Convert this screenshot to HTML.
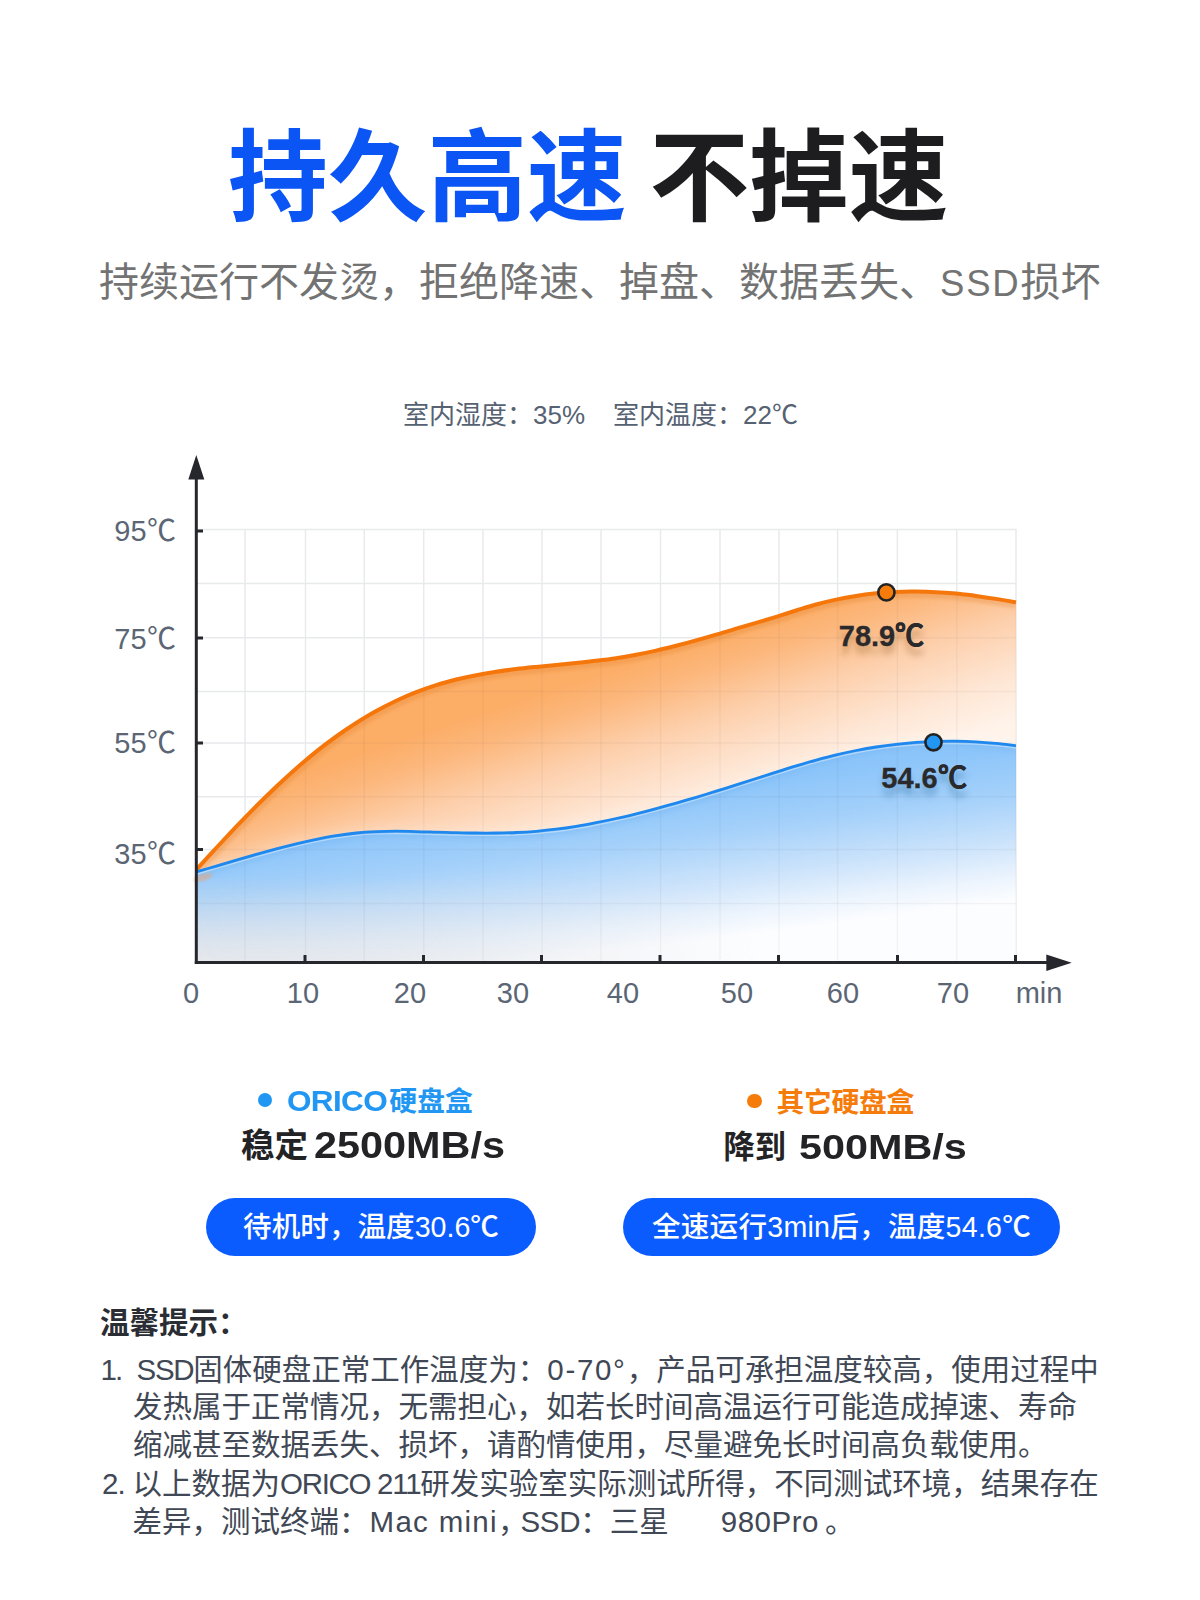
<!DOCTYPE html>
<html lang="zh-CN">
<head>
<meta charset="utf-8">
<title>持久高速 不掉速</title>
<style>
html,body{margin:0;padding:0;background:#fff;}
body{width:1200px;height:1600px;position:relative;overflow:hidden;font-family:"Liberation Sans","Noto Sans CJK SC",sans-serif;color:#222;}
.abs{position:absolute;white-space:nowrap;line-height:1;}
.title{left:228px;top:119.5px;font-size:99.7px;font-weight:700;letter-spacing:0;font-family:"Noto Sans CJK SC","Liberation Sans",sans-serif;}
.title .b{color:#0b55f5;}
.title .k{color:#1d1d1f;}
.sub{left:99px;top:258.5px;font-size:40px;font-weight:400;color:#737373;font-family:"Noto Sans CJK SC","Liberation Sans",sans-serif;}
.env{top:402px;font-size:26px;color:#566272;font-weight:400;}
svg{position:absolute;left:0;top:0;}
.ax{font-size:29px;fill:#5b6675;font-family:"Liberation Sans",sans-serif;}
.lg{font-size:27.8px;font-weight:700;line-height:28px;}
.lg i{display:inline-block;width:14.5px;height:14.5px;border-radius:50%;vertical-align:middle;margin-right:15px;position:relative;top:-3px;}
.spd{font-size:35px;font-weight:700;color:#232326;}
.spd b{font-size:37px;font-weight:700;display:inline-block;transform:scaleX(1.10);transform-origin:0 50%;}
.lg b{font-size:30px;letter-spacing:-0.6px;margin-right:7px;font-weight:700;display:inline-block;transform:scaleX(1.05);transform-origin:0 50%;}
.pill{position:absolute;height:58px;border-radius:29px;background:#0b5cff;color:#fff;font-size:28.6px;font-weight:500;line-height:58px;text-align:center;white-space:nowrap;}
.tip-h{left:100px;top:1307.5px;font-size:29.5px;font-weight:700;color:#2a2d33;}
.tip{font-size:29.5px;color:#414855;font-weight:400;}
</style>
</head>
<body>
<div class="abs title"><span class="b">持久高速</span> <span class="k">不掉速</span></div>
<div class="abs sub">持续运行不发烫，拒绝降速、掉盘、数据丢失、<span style="font-family:'Liberation Sans',sans-serif;font-size:36.5px;letter-spacing:1.8px;margin-left:1px;">SSD</span>损坏</div>
<div class="abs env" style="left:403px">室内湿度：35%</div>
<div class="abs env" style="left:613px">室内温度：22℃</div>

<svg width="1200" height="1600" viewBox="0 0 1200 1600">
<defs>
<linearGradient id="go" x1="600" y1="672" x2="656" y2="841" gradientUnits="userSpaceOnUse">
<stop offset="0" stop-color="#fcad66"/>
<stop offset="0.18" stop-color="#fcb77c"/>
<stop offset="0.45" stop-color="#fdd0ad"/>
<stop offset="0.75" stop-color="#fee6d4"/>
<stop offset="1" stop-color="#fff3ea"/>
</linearGradient>
<linearGradient id="gb" x1="600" y1="800" x2="620" y2="952" gradientUnits="userSpaceOnUse">
<stop offset="0" stop-color="#8cc5fa"/>
<stop offset="0.3" stop-color="#a3d0fa"/>
<stop offset="0.6" stop-color="#c9e2fb"/>
<stop offset="0.85" stop-color="#ecf4fd"/>
<stop offset="1" stop-color="#fcfdff"/>
</linearGradient>
<linearGradient id="gv" x1="0" y1="875" x2="0" y2="962" gradientUnits="userSpaceOnUse">
<stop offset="0" stop-color="#d9dbe0" stop-opacity="0"/>
<stop offset="1" stop-color="#e6e7ea" stop-opacity="0.95"/>
</linearGradient>
<linearGradient id="gh" x1="196" y1="0" x2="760" y2="0" gradientUnits="userSpaceOnUse">
<stop offset="0" stop-color="#fff" stop-opacity="1"/>
<stop offset="0.4" stop-color="#fff" stop-opacity="0.7"/>
<stop offset="1" stop-color="#fff" stop-opacity="0"/>
</linearGradient>
<mask id="mh" maskUnits="userSpaceOnUse" x="196" y="860" width="820" height="104"><rect x="196" y="860" width="820" height="104" fill="url(#gh)"/></mask>
<clipPath id="co"><path d="M196.2 869.8C199.6 866.1 209.6 855.2 216.2 848.0C222.9 840.8 229.6 833.7 236.2 826.7C242.9 819.7 249.6 812.9 256.2 806.2C262.9 799.5 269.6 793.0 276.2 786.7C282.9 780.4 289.6 774.2 296.2 768.4C302.9 762.6 309.5 757.0 316.2 751.6C322.9 746.3 329.5 741.3 336.2 736.5C342.9 731.7 349.5 727.2 356.2 723.0C362.9 718.8 369.5 714.8 376.2 711.1C382.9 707.4 389.5 704.0 396.2 700.8C402.9 697.7 409.5 694.8 416.2 692.2C422.8 689.6 429.5 687.2 436.2 685.1C442.8 683.0 449.5 681.2 456.2 679.5C462.8 677.9 469.5 676.5 476.2 675.2C482.8 673.9 489.5 672.8 496.2 671.8C502.8 670.7 509.5 669.9 516.2 669.1C522.8 668.3 529.5 667.6 536.1 666.9C542.8 666.2 549.5 665.6 556.1 665.0C562.8 664.3 569.5 663.7 576.1 663.0C582.8 662.3 589.5 661.7 596.1 660.8C602.8 660.0 609.5 659.2 616.1 658.2C622.8 657.2 629.5 656.1 636.1 654.8C642.8 653.5 649.4 652.1 656.1 650.6C662.8 649.1 669.4 647.4 676.1 645.7C682.8 644.0 689.4 642.2 696.1 640.3C702.8 638.5 709.4 636.6 716.1 634.6C722.8 632.7 729.4 630.7 736.1 628.7C742.7 626.8 749.4 624.8 756.1 622.8C762.7 620.9 769.4 618.9 776.1 616.9C782.7 614.8 789.4 612.6 796.1 610.5C802.7 608.5 809.4 606.3 816.1 604.5C822.7 602.7 829.4 601.0 836.1 599.6C842.7 598.1 849.4 596.9 856.0 595.9C862.7 594.8 869.4 594.0 876.0 593.3C882.7 592.7 889.4 592.2 896.0 591.9C902.7 591.6 909.4 591.5 916.0 591.6C922.7 591.6 929.4 591.8 936.0 592.2C942.7 592.5 949.4 593.0 956.0 593.6C962.7 594.3 969.3 595.0 976.0 595.9C982.7 596.8 989.3 597.8 996.0 598.9C1002.7 599.9 1012.7 601.8 1016.0 602.4L1016 962L196.2 962Z"/></clipPath>
<clipPath id="cb"><path d="M196.2 871.9C199.6 870.9 209.6 868.0 216.2 866.1C222.9 864.1 229.6 862.1 236.2 860.2C242.9 858.2 249.6 856.3 256.2 854.4C262.9 852.5 269.6 850.7 276.2 848.9C282.9 847.1 289.6 845.4 296.2 843.8C302.9 842.2 309.5 840.7 316.2 839.3C322.9 838.0 329.5 836.7 336.2 835.7C342.9 834.6 349.5 833.7 356.2 833.0C362.9 832.3 369.5 831.9 376.2 831.6C382.9 831.3 389.5 831.2 396.2 831.2C402.9 831.2 409.5 831.4 416.2 831.6C422.8 831.7 429.5 832.0 436.2 832.2C442.8 832.3 449.5 832.6 456.2 832.7C462.8 832.8 469.5 833.0 476.2 833.0C482.8 833.1 489.5 833.1 496.2 833.0C502.8 832.9 509.5 832.8 516.2 832.5C522.8 832.2 529.5 831.8 536.1 831.3C542.8 830.7 549.5 830.0 556.1 829.2C562.8 828.4 569.5 827.4 576.1 826.3C582.8 825.3 589.5 824.0 596.1 822.7C602.8 821.4 609.5 820.0 616.1 818.5C622.8 817.0 629.5 815.4 636.1 813.8C642.8 812.1 649.4 810.4 656.1 808.6C662.8 806.8 669.4 805.0 676.1 803.1C682.8 801.2 689.4 799.2 696.1 797.3C702.8 795.3 709.4 793.2 716.1 791.2C722.8 789.1 729.4 787.0 736.1 784.9C742.7 782.8 749.4 780.7 756.1 778.5C762.7 776.4 769.4 774.2 776.1 772.1C782.7 770.0 789.4 767.9 796.1 765.9C802.7 763.9 809.4 761.9 816.1 760.1C822.7 758.3 829.4 756.5 836.1 754.9C842.7 753.3 849.4 751.8 856.0 750.5C862.7 749.2 869.4 748.0 876.0 747.0C882.7 745.9 889.4 745.0 896.0 744.3C902.7 743.5 909.4 742.9 916.0 742.4C922.7 741.9 929.4 741.6 936.0 741.4C942.7 741.2 949.4 741.1 956.0 741.2C962.7 741.3 969.3 741.5 976.0 741.8C982.7 742.2 989.3 742.7 996.0 743.3C1002.7 743.9 1012.7 745.2 1016.0 745.6L1016 962L196.2 962Z"/></clipPath>
<filter id="bl" x="-5%" y="-5%" width="110%" height="110%"><feGaussianBlur stdDeviation="3"/></filter>
<filter id="bl2" x="-5%" y="-5%" width="110%" height="110%"><feGaussianBlur stdDeviation="1.8"/></filter>
<filter id="glow" x="-5%" y="-20%" width="110%" height="140%"><feGaussianBlur stdDeviation="8"/></filter>
<filter id="ts" x="-20%" y="-50%" width="140%" height="250%"><feGaussianBlur stdDeviation="3"/></filter>
</defs>
<g stroke="#e8e9eb" stroke-width="1.4" fill="none"><line x1="245.00" y1="529" x2="245.00" y2="962" /><line x1="305.50" y1="529" x2="305.50" y2="962" /><line x1="364.25" y1="529" x2="364.25" y2="962" /><line x1="423.75" y1="529" x2="423.75" y2="962" /><line x1="483.00" y1="529" x2="483.00" y2="962" /><line x1="542.00" y1="529" x2="542.00" y2="962" /><line x1="601.00" y1="529" x2="601.00" y2="962" /><line x1="660.50" y1="529" x2="660.50" y2="962" /><line x1="720.00" y1="529" x2="720.00" y2="962" /><line x1="779.00" y1="529" x2="779.00" y2="962" /><line x1="837.60" y1="529" x2="837.60" y2="962" /><line x1="897.40" y1="529" x2="897.40" y2="962" /><line x1="956.80" y1="529" x2="956.80" y2="962" /><line x1="1016.00" y1="529" x2="1016.00" y2="962" /><line x1="197" y1="529.50" x2="1016.5" y2="529.50" /><line x1="197" y1="583.50" x2="1016.5" y2="583.50" /><line x1="197" y1="637.75" x2="1016.5" y2="637.75" /><line x1="197" y1="691.50" x2="1016.5" y2="691.50" /><line x1="197" y1="743.00" x2="1016.5" y2="743.00" /><line x1="197" y1="796.75" x2="1016.5" y2="796.75" /><line x1="197" y1="849.50" x2="1016.5" y2="849.50" /><line x1="197" y1="903.50" x2="1016.5" y2="903.50" /></g>
<path d="M196.2 869.8C199.6 866.1 209.6 855.2 216.2 848.0C222.9 840.8 229.6 833.7 236.2 826.7C242.9 819.7 249.6 812.9 256.2 806.2C262.9 799.5 269.6 793.0 276.2 786.7C282.9 780.4 289.6 774.2 296.2 768.4C302.9 762.6 309.5 757.0 316.2 751.6C322.9 746.3 329.5 741.3 336.2 736.5C342.9 731.7 349.5 727.2 356.2 723.0C362.9 718.8 369.5 714.8 376.2 711.1C382.9 707.4 389.5 704.0 396.2 700.8C402.9 697.7 409.5 694.8 416.2 692.2C422.8 689.6 429.5 687.2 436.2 685.1C442.8 683.0 449.5 681.2 456.2 679.5C462.8 677.9 469.5 676.5 476.2 675.2C482.8 673.9 489.5 672.8 496.2 671.8C502.8 670.7 509.5 669.9 516.2 669.1C522.8 668.3 529.5 667.6 536.1 666.9C542.8 666.2 549.5 665.6 556.1 665.0C562.8 664.3 569.5 663.7 576.1 663.0C582.8 662.3 589.5 661.7 596.1 660.8C602.8 660.0 609.5 659.2 616.1 658.2C622.8 657.2 629.5 656.1 636.1 654.8C642.8 653.5 649.4 652.1 656.1 650.6C662.8 649.1 669.4 647.4 676.1 645.7C682.8 644.0 689.4 642.2 696.1 640.3C702.8 638.5 709.4 636.6 716.1 634.6C722.8 632.7 729.4 630.7 736.1 628.7C742.7 626.8 749.4 624.8 756.1 622.8C762.7 620.9 769.4 618.9 776.1 616.9C782.7 614.8 789.4 612.6 796.1 610.5C802.7 608.5 809.4 606.3 816.1 604.5C822.7 602.7 829.4 601.0 836.1 599.6C842.7 598.1 849.4 596.9 856.0 595.9C862.7 594.8 869.4 594.0 876.0 593.3C882.7 592.7 889.4 592.2 896.0 591.9C902.7 591.6 909.4 591.5 916.0 591.6C922.7 591.6 929.4 591.8 936.0 592.2C942.7 592.5 949.4 593.0 956.0 593.6C962.7 594.3 969.3 595.0 976.0 595.9C982.7 596.8 989.3 597.8 996.0 598.9C1002.7 599.9 1012.7 601.8 1016.0 602.4L1016 962L196.2 962Z" fill="url(#go)"/>
<g clip-path="url(#co)"><path d="M196.2 869.8C199.6 866.1 209.6 855.2 216.2 848.0C222.9 840.8 229.6 833.7 236.2 826.7C242.9 819.7 249.6 812.9 256.2 806.2C262.9 799.5 269.6 793.0 276.2 786.7C282.9 780.4 289.6 774.2 296.2 768.4C302.9 762.6 309.5 757.0 316.2 751.6C322.9 746.3 329.5 741.3 336.2 736.5C342.9 731.7 349.5 727.2 356.2 723.0C362.9 718.8 369.5 714.8 376.2 711.1C382.9 707.4 389.5 704.0 396.2 700.8C402.9 697.7 409.5 694.8 416.2 692.2C422.8 689.6 429.5 687.2 436.2 685.1C442.8 683.0 449.5 681.2 456.2 679.5C462.8 677.9 469.5 676.5 476.2 675.2C482.8 673.9 489.5 672.8 496.2 671.8C502.8 670.7 509.5 669.9 516.2 669.1C522.8 668.3 529.5 667.6 536.1 666.9C542.8 666.2 549.5 665.6 556.1 665.0C562.8 664.3 569.5 663.7 576.1 663.0C582.8 662.3 589.5 661.7 596.1 660.8C602.8 660.0 609.5 659.2 616.1 658.2C622.8 657.2 629.5 656.1 636.1 654.8C642.8 653.5 649.4 652.1 656.1 650.6C662.8 649.1 669.4 647.4 676.1 645.7C682.8 644.0 689.4 642.2 696.1 640.3C702.8 638.5 709.4 636.6 716.1 634.6C722.8 632.7 729.4 630.7 736.1 628.7C742.7 626.8 749.4 624.8 756.1 622.8C762.7 620.9 769.4 618.9 776.1 616.9C782.7 614.8 789.4 612.6 796.1 610.5C802.7 608.5 809.4 606.3 816.1 604.5C822.7 602.7 829.4 601.0 836.1 599.6C842.7 598.1 849.4 596.9 856.0 595.9C862.7 594.8 869.4 594.0 876.0 593.3C882.7 592.7 889.4 592.2 896.0 591.9C902.7 591.6 909.4 591.5 916.0 591.6C922.7 591.6 929.4 591.8 936.0 592.2C942.7 592.5 949.4 593.0 956.0 593.6C962.7 594.3 969.3 595.0 976.0 595.9C982.7 596.8 989.3 597.8 996.0 598.9C1002.7 599.9 1012.7 601.8 1016.0 602.4" fill="none" stroke="#e07a28" stroke-opacity="0.26" stroke-width="13" filter="url(#bl2)"/></g>
<g clip-path="url(#co)"><path d="M196.2 871.9C199.6 870.9 209.6 868.0 216.2 866.1C222.9 864.1 229.6 862.1 236.2 860.2C242.9 858.2 249.6 856.3 256.2 854.4C262.9 852.5 269.6 850.7 276.2 848.9C282.9 847.1 289.6 845.4 296.2 843.8C302.9 842.2 309.5 840.7 316.2 839.3C322.9 838.0 329.5 836.7 336.2 835.7C342.9 834.6 349.5 833.7 356.2 833.0C362.9 832.3 369.5 831.9 376.2 831.6C382.9 831.3 389.5 831.2 396.2 831.2C402.9 831.2 409.5 831.4 416.2 831.6C422.8 831.7 429.5 832.0 436.2 832.2C442.8 832.3 449.5 832.6 456.2 832.7C462.8 832.8 469.5 833.0 476.2 833.0C482.8 833.1 489.5 833.1 496.2 833.0C502.8 832.9 509.5 832.8 516.2 832.5C522.8 832.2 529.5 831.8 536.1 831.3C542.8 830.7 549.5 830.0 556.1 829.2C562.8 828.4 569.5 827.4 576.1 826.3C582.8 825.3 589.5 824.0 596.1 822.7C602.8 821.4 609.5 820.0 616.1 818.5C622.8 817.0 629.5 815.4 636.1 813.8C642.8 812.1 649.4 810.4 656.1 808.6C662.8 806.8 669.4 805.0 676.1 803.1C682.8 801.2 689.4 799.2 696.1 797.3C702.8 795.3 709.4 793.2 716.1 791.2C722.8 789.1 729.4 787.0 736.1 784.9C742.7 782.8 749.4 780.7 756.1 778.5C762.7 776.4 769.4 774.2 776.1 772.1C782.7 770.0 789.4 767.9 796.1 765.9C802.7 763.9 809.4 761.9 816.1 760.1C822.7 758.3 829.4 756.5 836.1 754.9C842.7 753.3 849.4 751.8 856.0 750.5C862.7 749.2 869.4 748.0 876.0 747.0C882.7 745.9 889.4 745.0 896.0 744.3C902.7 743.5 909.4 742.9 916.0 742.4C922.7 741.9 929.4 741.6 936.0 741.4C942.7 741.2 949.4 741.1 956.0 741.2C962.7 741.3 969.3 741.5 976.0 741.8C982.7 742.2 989.3 742.7 996.0 743.3C1002.7 743.9 1012.7 745.2 1016.0 745.6L1016 962L196.2 962Z" fill="#fff" fill-opacity="0.3" filter="url(#glow)"/></g>
<path d="M196.2 871.9C199.6 870.9 209.6 868.0 216.2 866.1C222.9 864.1 229.6 862.1 236.2 860.2C242.9 858.2 249.6 856.3 256.2 854.4C262.9 852.5 269.6 850.7 276.2 848.9C282.9 847.1 289.6 845.4 296.2 843.8C302.9 842.2 309.5 840.7 316.2 839.3C322.9 838.0 329.5 836.7 336.2 835.7C342.9 834.6 349.5 833.7 356.2 833.0C362.9 832.3 369.5 831.9 376.2 831.6C382.9 831.3 389.5 831.2 396.2 831.2C402.9 831.2 409.5 831.4 416.2 831.6C422.8 831.7 429.5 832.0 436.2 832.2C442.8 832.3 449.5 832.6 456.2 832.7C462.8 832.8 469.5 833.0 476.2 833.0C482.8 833.1 489.5 833.1 496.2 833.0C502.8 832.9 509.5 832.8 516.2 832.5C522.8 832.2 529.5 831.8 536.1 831.3C542.8 830.7 549.5 830.0 556.1 829.2C562.8 828.4 569.5 827.4 576.1 826.3C582.8 825.3 589.5 824.0 596.1 822.7C602.8 821.4 609.5 820.0 616.1 818.5C622.8 817.0 629.5 815.4 636.1 813.8C642.8 812.1 649.4 810.4 656.1 808.6C662.8 806.8 669.4 805.0 676.1 803.1C682.8 801.2 689.4 799.2 696.1 797.3C702.8 795.3 709.4 793.2 716.1 791.2C722.8 789.1 729.4 787.0 736.1 784.9C742.7 782.8 749.4 780.7 756.1 778.5C762.7 776.4 769.4 774.2 776.1 772.1C782.7 770.0 789.4 767.9 796.1 765.9C802.7 763.9 809.4 761.9 816.1 760.1C822.7 758.3 829.4 756.5 836.1 754.9C842.7 753.3 849.4 751.8 856.0 750.5C862.7 749.2 869.4 748.0 876.0 747.0C882.7 745.9 889.4 745.0 896.0 744.3C902.7 743.5 909.4 742.9 916.0 742.4C922.7 741.9 929.4 741.6 936.0 741.4C942.7 741.2 949.4 741.1 956.0 741.2C962.7 741.3 969.3 741.5 976.0 741.8C982.7 742.2 989.3 742.7 996.0 743.3C1002.7 743.9 1012.7 745.2 1016.0 745.6L1016 962L196.2 962Z" fill="url(#gb)"/>
<g clip-path="url(#cb)"><rect x="196" y="870" width="820" height="92" fill="url(#gv)" mask="url(#mh)"/><path d="M196.2 871.9C199.6 870.9 209.6 868.0 216.2 866.1C222.9 864.1 229.6 862.1 236.2 860.2C242.9 858.2 249.6 856.3 256.2 854.4C262.9 852.5 269.6 850.7 276.2 848.9C282.9 847.1 289.6 845.4 296.2 843.8C302.9 842.2 309.5 840.7 316.2 839.3C322.9 838.0 329.5 836.7 336.2 835.7C342.9 834.6 349.5 833.7 356.2 833.0C362.9 832.3 369.5 831.9 376.2 831.6C382.9 831.3 389.5 831.2 396.2 831.2C402.9 831.2 409.5 831.4 416.2 831.6C422.8 831.7 429.5 832.0 436.2 832.2C442.8 832.3 449.5 832.6 456.2 832.7C462.8 832.8 469.5 833.0 476.2 833.0C482.8 833.1 489.5 833.1 496.2 833.0C502.8 832.9 509.5 832.8 516.2 832.5C522.8 832.2 529.5 831.8 536.1 831.3C542.8 830.7 549.5 830.0 556.1 829.2C562.8 828.4 569.5 827.4 576.1 826.3C582.8 825.3 589.5 824.0 596.1 822.7C602.8 821.4 609.5 820.0 616.1 818.5C622.8 817.0 629.5 815.4 636.1 813.8C642.8 812.1 649.4 810.4 656.1 808.6C662.8 806.8 669.4 805.0 676.1 803.1C682.8 801.2 689.4 799.2 696.1 797.3C702.8 795.3 709.4 793.2 716.1 791.2C722.8 789.1 729.4 787.0 736.1 784.9C742.7 782.8 749.4 780.7 756.1 778.5C762.7 776.4 769.4 774.2 776.1 772.1C782.7 770.0 789.4 767.9 796.1 765.9C802.7 763.9 809.4 761.9 816.1 760.1C822.7 758.3 829.4 756.5 836.1 754.9C842.7 753.3 849.4 751.8 856.0 750.5C862.7 749.2 869.4 748.0 876.0 747.0C882.7 745.9 889.4 745.0 896.0 744.3C902.7 743.5 909.4 742.9 916.0 742.4C922.7 741.9 929.4 741.6 936.0 741.4C942.7 741.2 949.4 741.1 956.0 741.2C962.7 741.3 969.3 741.5 976.0 741.8C982.7 742.2 989.3 742.7 996.0 743.3C1002.7 743.9 1012.7 745.2 1016.0 745.6" fill="none" stroke="#6fb2f0" stroke-opacity="0.40" stroke-width="12" filter="url(#bl)"/></g>
<ellipse cx="203" cy="877.5" rx="10" ry="3.2" fill="#f3a061" fill-opacity="0.5" filter="url(#bl2)" transform="rotate(-17 203 877.5)"/>
<g stroke="#5a4a40" stroke-opacity="0.055" stroke-width="1.4" fill="none" clip-path="url(#co)"><line x1="245.00" y1="529" x2="245.00" y2="962" /><line x1="305.50" y1="529" x2="305.50" y2="962" /><line x1="364.25" y1="529" x2="364.25" y2="962" /><line x1="423.75" y1="529" x2="423.75" y2="962" /><line x1="483.00" y1="529" x2="483.00" y2="962" /><line x1="542.00" y1="529" x2="542.00" y2="962" /><line x1="601.00" y1="529" x2="601.00" y2="962" /><line x1="660.50" y1="529" x2="660.50" y2="962" /><line x1="720.00" y1="529" x2="720.00" y2="962" /><line x1="779.00" y1="529" x2="779.00" y2="962" /><line x1="837.60" y1="529" x2="837.60" y2="962" /><line x1="897.40" y1="529" x2="897.40" y2="962" /><line x1="956.80" y1="529" x2="956.80" y2="962" /><line x1="1016.00" y1="529" x2="1016.00" y2="962" /><line x1="197" y1="529.50" x2="1016.5" y2="529.50" /><line x1="197" y1="583.50" x2="1016.5" y2="583.50" /><line x1="197" y1="637.75" x2="1016.5" y2="637.75" /><line x1="197" y1="691.50" x2="1016.5" y2="691.50" /><line x1="197" y1="743.00" x2="1016.5" y2="743.00" /><line x1="197" y1="796.75" x2="1016.5" y2="796.75" /><line x1="197" y1="849.50" x2="1016.5" y2="849.50" /><line x1="197" y1="903.50" x2="1016.5" y2="903.50" /></g>
<path d="M196.2 869.8C199.6 866.1 209.6 855.2 216.2 848.0C222.9 840.8 229.6 833.7 236.2 826.7C242.9 819.7 249.6 812.9 256.2 806.2C262.9 799.5 269.6 793.0 276.2 786.7C282.9 780.4 289.6 774.2 296.2 768.4C302.9 762.6 309.5 757.0 316.2 751.6C322.9 746.3 329.5 741.3 336.2 736.5C342.9 731.7 349.5 727.2 356.2 723.0C362.9 718.8 369.5 714.8 376.2 711.1C382.9 707.4 389.5 704.0 396.2 700.8C402.9 697.7 409.5 694.8 416.2 692.2C422.8 689.6 429.5 687.2 436.2 685.1C442.8 683.0 449.5 681.2 456.2 679.5C462.8 677.9 469.5 676.5 476.2 675.2C482.8 673.9 489.5 672.8 496.2 671.8C502.8 670.7 509.5 669.9 516.2 669.1C522.8 668.3 529.5 667.6 536.1 666.9C542.8 666.2 549.5 665.6 556.1 665.0C562.8 664.3 569.5 663.7 576.1 663.0C582.8 662.3 589.5 661.7 596.1 660.8C602.8 660.0 609.5 659.2 616.1 658.2C622.8 657.2 629.5 656.1 636.1 654.8C642.8 653.5 649.4 652.1 656.1 650.6C662.8 649.1 669.4 647.4 676.1 645.7C682.8 644.0 689.4 642.2 696.1 640.3C702.8 638.5 709.4 636.6 716.1 634.6C722.8 632.7 729.4 630.7 736.1 628.7C742.7 626.8 749.4 624.8 756.1 622.8C762.7 620.9 769.4 618.9 776.1 616.9C782.7 614.8 789.4 612.6 796.1 610.5C802.7 608.5 809.4 606.3 816.1 604.5C822.7 602.7 829.4 601.0 836.1 599.6C842.7 598.1 849.4 596.9 856.0 595.9C862.7 594.8 869.4 594.0 876.0 593.3C882.7 592.7 889.4 592.2 896.0 591.9C902.7 591.6 909.4 591.5 916.0 591.6C922.7 591.6 929.4 591.8 936.0 592.2C942.7 592.5 949.4 593.0 956.0 593.6C962.7 594.3 969.3 595.0 976.0 595.9C982.7 596.8 989.3 597.8 996.0 598.9C1002.7 599.9 1012.7 601.8 1016.0 602.4" fill="none" stroke="#f5770c" stroke-width="4"/>
<g clip-path="url(#cb)"><path d="M196.2 871.9C199.6 870.9 209.6 868.0 216.2 866.1C222.9 864.1 229.6 862.1 236.2 860.2C242.9 858.2 249.6 856.3 256.2 854.4C262.9 852.5 269.6 850.7 276.2 848.9C282.9 847.1 289.6 845.4 296.2 843.8C302.9 842.2 309.5 840.7 316.2 839.3C322.9 838.0 329.5 836.7 336.2 835.7C342.9 834.6 349.5 833.7 356.2 833.0C362.9 832.3 369.5 831.9 376.2 831.6C382.9 831.3 389.5 831.2 396.2 831.2C402.9 831.2 409.5 831.4 416.2 831.6C422.8 831.7 429.5 832.0 436.2 832.2C442.8 832.3 449.5 832.6 456.2 832.7C462.8 832.8 469.5 833.0 476.2 833.0C482.8 833.1 489.5 833.1 496.2 833.0C502.8 832.9 509.5 832.8 516.2 832.5C522.8 832.2 529.5 831.8 536.1 831.3C542.8 830.7 549.5 830.0 556.1 829.2C562.8 828.4 569.5 827.4 576.1 826.3C582.8 825.3 589.5 824.0 596.1 822.7C602.8 821.4 609.5 820.0 616.1 818.5C622.8 817.0 629.5 815.4 636.1 813.8C642.8 812.1 649.4 810.4 656.1 808.6C662.8 806.8 669.4 805.0 676.1 803.1C682.8 801.2 689.4 799.2 696.1 797.3C702.8 795.3 709.4 793.2 716.1 791.2C722.8 789.1 729.4 787.0 736.1 784.9C742.7 782.8 749.4 780.7 756.1 778.5C762.7 776.4 769.4 774.2 776.1 772.1C782.7 770.0 789.4 767.9 796.1 765.9C802.7 763.9 809.4 761.9 816.1 760.1C822.7 758.3 829.4 756.5 836.1 754.9C842.7 753.3 849.4 751.8 856.0 750.5C862.7 749.2 869.4 748.0 876.0 747.0C882.7 745.9 889.4 745.0 896.0 744.3C902.7 743.5 909.4 742.9 916.0 742.4C922.7 741.9 929.4 741.6 936.0 741.4C942.7 741.2 949.4 741.1 956.0 741.2C962.7 741.3 969.3 741.5 976.0 741.8C982.7 742.2 989.3 742.7 996.0 743.3C1002.7 743.9 1012.7 745.2 1016.0 745.6" transform="translate(0,2.4)" fill="none" stroke="#fff" stroke-opacity="0.4" stroke-width="1.2"/></g>
<path d="M196.2 871.9C199.6 870.9 209.6 868.0 216.2 866.1C222.9 864.1 229.6 862.1 236.2 860.2C242.9 858.2 249.6 856.3 256.2 854.4C262.9 852.5 269.6 850.7 276.2 848.9C282.9 847.1 289.6 845.4 296.2 843.8C302.9 842.2 309.5 840.7 316.2 839.3C322.9 838.0 329.5 836.7 336.2 835.7C342.9 834.6 349.5 833.7 356.2 833.0C362.9 832.3 369.5 831.9 376.2 831.6C382.9 831.3 389.5 831.2 396.2 831.2C402.9 831.2 409.5 831.4 416.2 831.6C422.8 831.7 429.5 832.0 436.2 832.2C442.8 832.3 449.5 832.6 456.2 832.7C462.8 832.8 469.5 833.0 476.2 833.0C482.8 833.1 489.5 833.1 496.2 833.0C502.8 832.9 509.5 832.8 516.2 832.5C522.8 832.2 529.5 831.8 536.1 831.3C542.8 830.7 549.5 830.0 556.1 829.2C562.8 828.4 569.5 827.4 576.1 826.3C582.8 825.3 589.5 824.0 596.1 822.7C602.8 821.4 609.5 820.0 616.1 818.5C622.8 817.0 629.5 815.4 636.1 813.8C642.8 812.1 649.4 810.4 656.1 808.6C662.8 806.8 669.4 805.0 676.1 803.1C682.8 801.2 689.4 799.2 696.1 797.3C702.8 795.3 709.4 793.2 716.1 791.2C722.8 789.1 729.4 787.0 736.1 784.9C742.7 782.8 749.4 780.7 756.1 778.5C762.7 776.4 769.4 774.2 776.1 772.1C782.7 770.0 789.4 767.9 796.1 765.9C802.7 763.9 809.4 761.9 816.1 760.1C822.7 758.3 829.4 756.5 836.1 754.9C842.7 753.3 849.4 751.8 856.0 750.5C862.7 749.2 869.4 748.0 876.0 747.0C882.7 745.9 889.4 745.0 896.0 744.3C902.7 743.5 909.4 742.9 916.0 742.4C922.7 741.9 929.4 741.6 936.0 741.4C942.7 741.2 949.4 741.1 956.0 741.2C962.7 741.3 969.3 741.5 976.0 741.8C982.7 742.2 989.3 742.7 996.0 743.3C1002.7 743.9 1012.7 745.2 1016.0 745.6" fill="none" stroke="#1f88ee" stroke-width="2.8"/>
<g fill="#26272c">
<rect x="194.8" y="478" width="3" height="486"/>
<rect x="194.8" y="961" width="853" height="3"/>
<path d="M196.3 455L204.3 479.5L188.3 479.5Z"/>
<path d="M1071.7 962.8L1046.3 954.6L1046.3 971Z"/>
<rect x="303.5" y="955" width="3" height="7" /><rect x="422.0" y="955" width="3" height="7" /><rect x="540.0" y="955" width="3" height="7" /><rect x="658.5" y="955" width="3" height="7" /><rect x="777.0" y="955" width="3" height="7" /><rect x="896.0" y="955" width="3" height="7" /><rect x="1014.0" y="955" width="3" height="7" /><rect x="197" y="529.5" width="6" height="3" /><rect x="197" y="636.5" width="6" height="3" /><rect x="197" y="741.5" width="6" height="3" /><rect x="197" y="848.0" width="6" height="3" />
</g>
<circle cx="886.4" cy="592.4" r="8.1" fill="#f57c0a" stroke="#222" stroke-width="2.6"/>
<circle cx="933.5" cy="742.3" r="8.1" fill="#2196f3" stroke="#222" stroke-width="2.6"/>
<g class="ax" text-anchor="middle">
<text x="145" y="541">95℃</text>
<text x="145" y="649">75℃</text>
<text x="145" y="753">55℃</text>
<text x="145" y="864">35℃</text>
<text x="191" y="1002.5">0</text>
<text x="303" y="1002.5">10</text>
<text x="410" y="1002.5">20</text>
<text x="513" y="1002.5">30</text>
<text x="623" y="1002.5">40</text>
<text x="737" y="1002.5">50</text>
<text x="843" y="1002.5">60</text>
<text x="953" y="1002.5">70</text>
<text x="1039" y="1002.5">min</text>
</g>
<g font-family="Liberation Sans, sans-serif" font-weight="700" font-size="29" text-anchor="middle">
<text x="881.5" y="654" fill="#6b3a10" fill-opacity="0.35" filter="url(#ts)">78.9℃</text>
<text x="881.5" y="646" fill="#2a2a2c" stroke="#2a2a2c" stroke-width="0.3">78.9℃</text>
<text x="924" y="796" fill="#1c4a7a" fill-opacity="0.35" filter="url(#ts)">54.6℃</text>
<text x="924" y="788" fill="#2a2a2c" stroke="#2a2a2c" stroke-width="0.3">54.6℃</text>
</g>
</svg>

<div class="abs lg" style="left:257.5px;top:1086.5px;color:#2196f3;"><i style="background:#2196f3"></i><b>ORICO</b>硬盘盒</div>
<div class="abs spd" style="left:241px;top:1128.5px;font-size:33.5px;">稳定</div>
<div class="abs spd" style="left:313.5px;top:1128px;"><b style="font-size:36.7px;transform:scaleX(1.128)">2500MB/s</b></div>
<div class="abs lg" style="left:747px;top:1088.5px;color:#f57c0a;letter-spacing:-0.3px;"><i style="background:#f57c0a"></i>其它硬盘盒</div>
<div class="abs spd" style="left:723.5px;top:1132px;font-size:31.3px;">降到</div>
<div class="abs spd" style="left:798.5px;top:1128.5px;"><b style="font-size:34.2px;transform:scaleX(1.21)">500MB/s</b></div>
<div class="pill" style="left:206px;top:1198px;width:330px;">待机时，温度30.6℃</div>
<div class="pill" style="left:623px;top:1198px;width:437px;letter-spacing:0.25px;">全速运行3min后，温度54.6℃</div>

<div class="abs tip-h">温馨提示：</div>
<div class="abs tip" style="left:100.5px;top:1355px;letter-spacing:-2px;">1.</div>
<div class="abs tip" id="l1" style="left:136.5px;top:1355px;"><span id="l1a" style="letter-spacing:-1.3px">SSD</span><span id="l1b">固体硬盘正常工作温度为：</span><span id="l1c" style="letter-spacing:1.7px">0-70°</span><span id="l1d">，产品可承担温度较高，使用过程中</span></div>
<div class="abs tip" id="l2" style="left:133px;top:1392px;">发热属于正常情况，无需担心，如若长时间高温运行可能造成掉速、寿命</div>
<div class="abs tip" id="l3" style="left:133px;top:1430px;">缩减甚至数据丢失、损坏，请酌情使用，尽量避免长时间高负载使用。</div>
<div class="abs tip" style="left:102px;top:1469px;letter-spacing:-1px;">2.</div>
<div class="abs tip" id="l4" style="left:132.5px;top:1469px;"><span id="l4a">以上数据为</span><span id="l4b" style="letter-spacing:-1.3px">ORICO 211</span><span id="l4c">研发实验室实际测试所得，不同测试环境，结果存在</span></div>
<div class="abs tip" id="l5" style="left:132.5px;top:1507px;"><span id="l5a">差异，测试终端：</span><span id="l5b" style="letter-spacing:1.3px;margin-left:1px">Mac mini</span><span id="l5c" style="margin-right:-7px">，</span><span id="l5d" style="letter-spacing:-0.3px">SSD</span><span id="l5e">：三星</span><span id="l5f" style="margin-left:52px;letter-spacing:0.5px">980Pro</span><span id="l5g" style="margin-left:6px">。</span></div>
</body>
</html>
